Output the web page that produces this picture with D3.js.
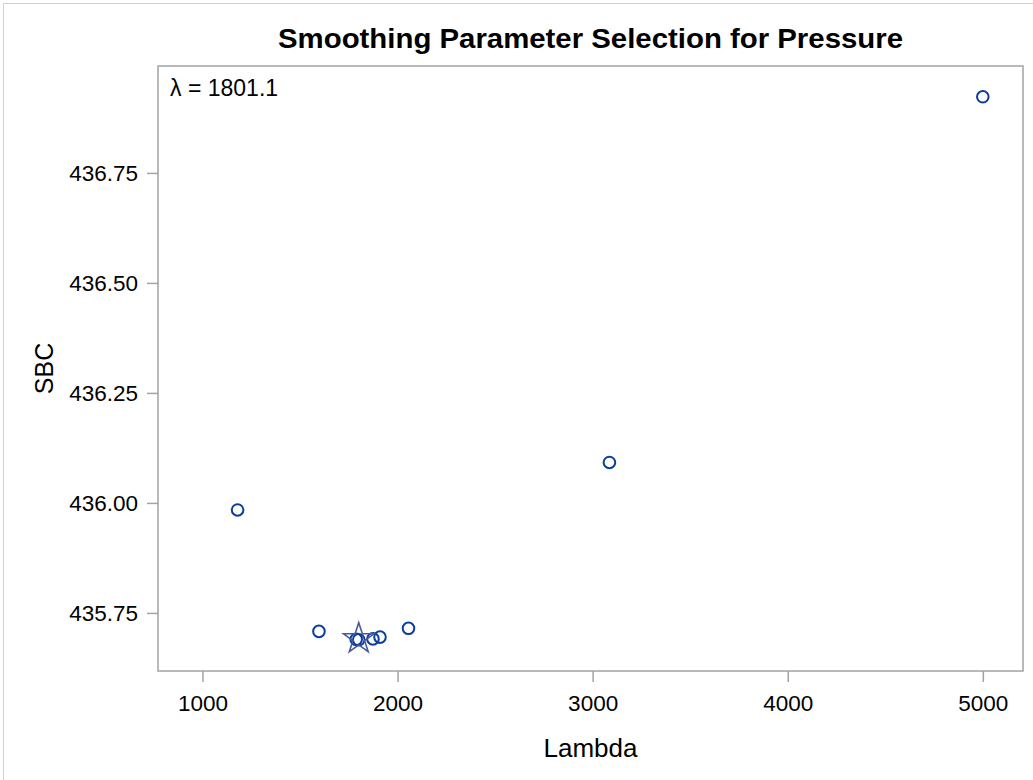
<!DOCTYPE html>
<html><head><meta charset="utf-8">
<script src="https://cdn.jsdelivr.net/npm/d3@7"></script>
<style>body{margin:0;background:#fff;} svg{display:block;font-family:"Liberation Sans",Arial,sans-serif;}</style>
</head><body>
<script>
const lambdas = [1180, 1597, 1788, 1801.1, 1874, 1910, 2056, 3086, 5000];
const sbc     = [435.984, 435.708, 435.690, 435.689, 435.691, 435.695, 435.715, 436.092, 436.923];
const optLambda = 1801.1;
const optSBC = 435.689;
const xTicks = [1000, 2000, 3000, 4000, 5000];
const yTicks = [435.75, 436.00, 436.25, 436.50, 436.75];
const titleText = "Smoothing Parameter Selection for Pressure";
const xLabel = "Lambda";
const yLabel = "SBC";
const insetText = "\u03BB = 1801.1";

const W = 1033, H = 780;
const L = 158, R = 1023, T = 66, B = 671;
const svg = d3.select("body").append("svg").attr("width", W).attr("height", H);

// outer border (top/left visible)
svg.append("rect").attr("x", 3.5).attr("y", 3.5).attr("width", W + 20).attr("height", H + 20)
  .attr("fill", "none").attr("stroke", "#d0d0d0").attr("stroke-width", 1);

const x = d3.scaleLinear().domain([772, 5206]).range([L, R]);
const y = d3.scaleLinear().domain([435.618, 436.993]).range([B, T]);

const axisColor = "#a0a4a8";

const gx = svg.append("g").attr("transform", `translate(0,${B})`)
  .call(d3.axisBottom(x).tickValues(xTicks).tickFormat(d3.format("d")).tickSize(11).tickPadding(13));
const gy = svg.append("g").attr("transform", `translate(${L},0)`)
  .call(d3.axisLeft(y).tickValues(yTicks).tickFormat(d3.format(".2f")).tickSize(11).tickPadding(9));
[gx, gy].forEach(g => {
  g.select(".domain").remove();
  g.selectAll(".tick line").attr("stroke", axisColor).attr("stroke-width", 1.5);
  g.selectAll(".tick text").attr("fill", "#000").style("font-size", "22.5px").style("font-family", "Liberation Sans, Arial, sans-serif");
});

svg.append("rect").attr("x", L).attr("y", T).attr("width", R - L).attr("height", B - T)
  .attr("fill", "none").attr("stroke", axisColor).attr("stroke-width", 1.5);

// points
svg.append("g").selectAll("circle").data(lambdas.map((l, i) => [l, sbc[i]])).join("circle")
  .attr("cx", d => x(d[0])).attr("cy", d => y(d[1])).attr("r", 5.8)
  .attr("fill", "none").attr("stroke", "#0b3d9e").attr("stroke-width", 2);

// star for optimum
const star = d3.symbol().type(d3.symbolStar).size(290);
svg.append("path").attr("d", star())
  .attr("transform", `translate(${x(optLambda)},${y(optSBC) - 1})`)
  .attr("fill", "none").attr("stroke", "#4a5a96").attr("stroke-width", 1.6);

// texts
svg.append("text").attr("x", (L + R) / 2).attr("y", 48).attr("text-anchor", "middle")
  .style("font-size", "28px").style("font-weight", "bold").text(titleText)
  .attr("textLength", 625).attr("lengthAdjust", "spacingAndGlyphs");
svg.append("text").attr("x", 170).attr("y", 96).style("font-size", "23px").text(insetText);
svg.append("text").attr("x", (L + R) / 2).attr("y", 757).attr("text-anchor", "middle")
  .style("font-size", "26px").text(xLabel);
svg.append("text").attr("transform", `translate(53,${(T + B) / 2}) rotate(-90)`).attr("text-anchor", "middle")
  .style("font-size", "25px").text(yLabel);
</script>
</body></html>
